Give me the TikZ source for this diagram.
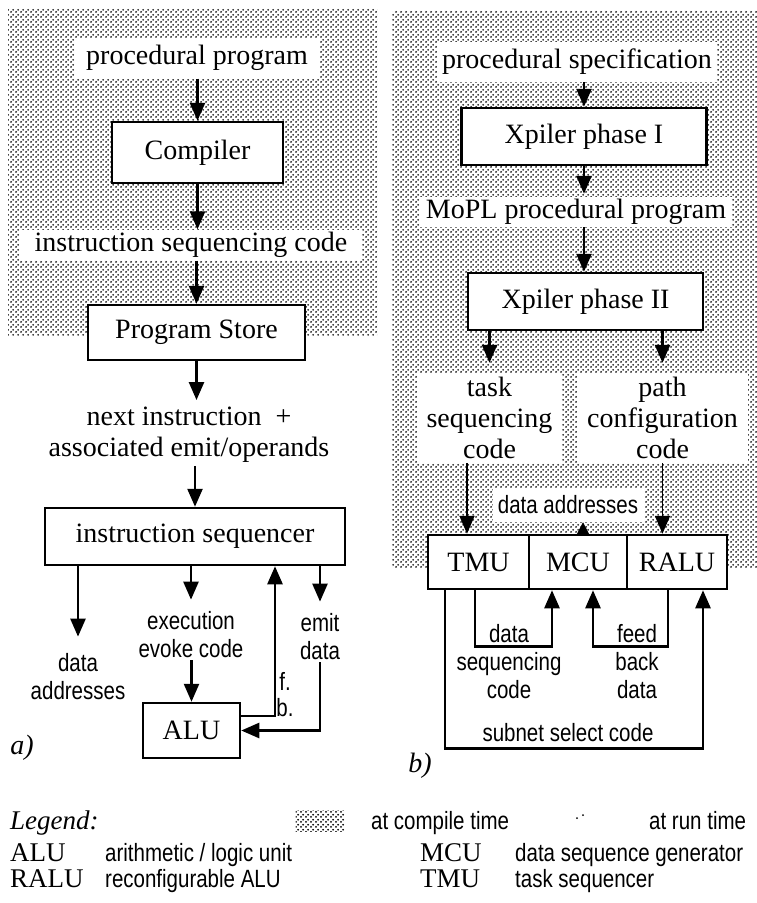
\documentclass[tikz,border=0pt]{standalone}
\usepackage{fontspec}
\setmainfont{Liberation Serif}
\newfontfamily\nf[FakeStretch=0.82]{Liberation Sans}
\usetikzlibrary{arrows.meta,patterns}
\pgfdeclarepatternformonly{stipple}{\pgfpointorigin}{\pgfqpoint{5pt}{5pt}}{\pgfqpoint{5pt}{5pt}}{%
  \pgfpathcircle{\pgfqpoint{1.25pt}{1.25pt}}{1.15pt}%
  \pgfpathcircle{\pgfqpoint{3.75pt}{3.75pt}}{1.15pt}%
  \pgfusepath{fill}}
\begin{document}
\begin{tikzpicture}[x=1pt,y=-1pt,
  big/.style={font=\fontsize{28}{31}\selectfont},
  small/.style={font=\nf\fontsize{25}{28}\selectfont},
  legser/.style={font=\fontsize{27}{30}\selectfont, anchor=base west, inner sep=0pt},
  legsan/.style={small, anchor=base west, inner sep=0pt},
  box/.style={draw, line width=2.5pt, fill=white, inner sep=0pt, big},
  wbg/.style={fill=white, inner sep=0pt, big},
  tip/.style={-{Triangle[length=18pt,width=15pt]}},
  arr/.style={line width=2.5pt, tip},
  thinarr/.style={line width=1.8pt, tip},
  compile/.style={pattern=stipple, pattern color=black}
]
\useasboundingbox (0,0) rectangle (757,903);
% compile-time regions
\fill[compile] (8,8) rectangle (377,335);
\fill[compile] (392,11) rectangle (757,567);

% ---------- panel a ----------
\node[wbg, minimum width=245pt, minimum height=41pt] (pp) at (197,58) {procedural program};
\node[box, minimum width=171pt, minimum height=61pt] (comp) at (197.5,152.5) {Compiler};
\node[wbg, minimum width=342pt, minimum height=31pt] (isc) at (191,245) {instruction sequencing code};
\node[box, minimum width=217pt, minimum height=55pt] (ps) at (196.5,332.5) {Program Store};
\node[big, align=center, inner sep=3pt] (ni) at (189,435) {next instruction \ +\\associated emit/operands};
\node[box, minimum width=300pt, minimum height=57pt] (seq) at (195,536.5) {instruction sequencer};
\node[box, minimum width=97pt, minimum height=55pt] (alu) at (191.5,730.5) {ALU};

\node[small, align=center, inner sep=2pt] (da) at (78,677) {data\\addresses};
\node[small, align=center, inner sep=2pt] (ee) at (191,635) {execution\\evoke code};
\node[small, align=center, inner sep=2pt] (ed) at (320,637) {emit\\data};
\node[small, inner sep=0pt] (fl) at (285,681) {f.};
\node[small, inner sep=0pt] (bl) at (285,708) {b.};
\node[font=\itshape\fontsize{28}{30}\selectfont, inner sep=0pt] (la) at (22,748) {a)};

\draw[arr] (pp.south -| comp) -- (comp.north);
\draw[arr] (comp.south) -- (comp.south |- isc.north);
\draw[arr] (isc.south -| ps) -- (ps.north);
\draw[arr, shorten >=4pt] (ps.south) -- (ps.south |- ni.north);
\draw[arr] (ni.south -| seq) -- (seq.north);
\draw[arr, shorten >=15pt] (seq.south -| da) -- (da.north);
\draw[arr, shorten >=10pt] (seq.south -| ee) -- (ee.north);
\draw[arr, shorten >=10pt] (seq.south -| ed) -- (ed.north);
\draw[arr] (ee.south -| alu) -- (alu.north);
\draw[arr] ([yshift=14.5pt]alu.east) -| ([xshift=80pt]seq.south);
\draw[arr] (ed.south) |- (alu.east);

% ---------- panel b ----------
\node[wbg, minimum width=280pt, minimum height=40pt] (psp) at (577,62) {procedural specification};
\node[box, minimum width=245pt, minimum height=57pt] (x1) at (584,136.5) {Xpiler phase I};
\node[wbg, minimum width=312pt, minimum height=30pt] (mopl) at (576,212) {MoPL procedural program};
\node[box, minimum width=235pt, minimum height=57pt] (x2) at (585.5,301.5) {Xpiler phase II};
\node[wbg, minimum width=145pt, minimum height=90pt, align=center] (tsc) at (489.5,418) {task\\sequencing\\code};
\node[wbg, minimum width=171pt, minimum height=90pt, align=center] (pcc) at (662.5,418) {path\\configuration\\code};
\node[small, fill=white, minimum width=151pt, minimum height=34pt, inner sep=0pt] (dad) at (568,505) {data addresses};

\node[box, minimum width=101pt, minimum height=54pt] (tmu) at (478.5,562) {TMU};
\node[box, minimum width=98pt, minimum height=54pt] (mcu) at (578,562) {MCU};
\node[box, minimum width=100pt, minimum height=54pt] (ralu) at (677,562) {RALU};

\node[small, align=center, inner sep=0pt] (dsc) at (509,662) {data\\sequencing\\code};
\node[small, align=center, inner sep=0pt] (fbd) at (637,662) {feed\\back\\data};
\node[small, inner sep=0pt] (ssc) at (568,733) {subnet select code};
\node[font=\itshape\fontsize{28}{30}\selectfont, inner sep=0pt] (lb) at (420,766) {b)};

\draw[arr] (psp.south -| x1) -- (x1.north);
\draw[arr, shorten >=3pt] (x1.south) -- (x1.south |- mopl.north);
\draw[arr] (mopl.south -| x1) -- (x1.north |- x2.north);
\draw[arr, shorten >=10pt] (x2.south -| tsc) -- (tsc.north);
\draw[arr, shorten >=10pt] (x2.south -| pcc) -- (pcc.north);
\draw[thinarr] ([xshift=-22.5pt]tsc.south) -- ([xshift=-22.5pt]tsc.south |- tmu.north);
\draw[thinarr] (pcc.south) -- (pcc.south |- ralu.north);
\draw[line width=1.8pt, -{Triangle[length=13pt,width=13pt]}] ([xshift=5pt]mcu.north) -- ([xshift=5pt]mcu.north |- dad.south);
\draw[arr] ([xshift=-3.5pt]tmu.south) -- ++(0,56) -| ([xshift=-26pt]mcu.south);
\draw[arr] ([xshift=-9pt]ralu.south) -- ++(0,56) -| ([xshift=15pt]mcu.south);
\draw[arr] ([xshift=-33.5pt]tmu.south) -- ++(0,158) -| ([xshift=26pt]ralu.south);

% ---------- legend ----------
\node[legser, font=\itshape\fontsize{27}{30}\selectfont] (leg) at (10,829) {Legend:};
\node[compile, minimum width=49pt, minimum height=21pt, inner sep=0pt] (sw) at (320,821) {};
\node[legsan] (ct) at (371,829) {at compile time};
\fill (577,818) circle (1pt) (583,815) circle (1pt);
\node[legsan] (rt) at (649,829) {at run time};
\node[legser] (l1) at (10,861) {ALU};
\node[legsan] (l1d) at (105,861) {arithmetic / logic unit};
\node[legser] (l2) at (10,887) {RALU};
\node[legsan] (l2d) at (105,887) {reconfigurable ALU};
\node[legser] (l3) at (420,861) {MCU};
\node[legsan] (l3d) at (515,861) {data sequence generator};
\node[legser] (l4) at (420,887) {TMU};
\node[legsan] (l4d) at (515,887) {task sequencer};
\end{tikzpicture}
\end{document}
